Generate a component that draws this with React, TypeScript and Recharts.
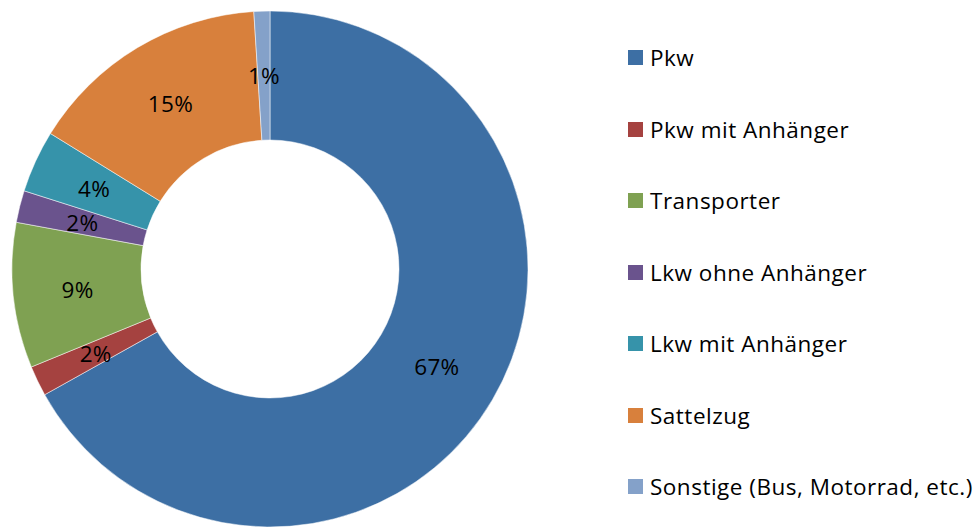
import { PieChart, Pie, Cell } from "recharts";

const categories = [
  "Pkw",
  "Pkw mit Anhänger",
  "Transporter",
  "Lkw ohne Anhänger",
  "Lkw mit Anhänger",
  "Sattelzug",
  "Sonstige (Bus, Motorrad, etc.)",
];
const shares = [66.9, 1.9, 9.1, 2.0, 3.9, 15.2, 1.0];
const colors = ["#3D6FA4", "#A54240", "#7FA152", "#6A538D", "#3693AA", "#D8803C", "#84A1C9"];

const data = categories.map((name, i) => ({ name, value: shares[i] }));

const FONT = "'Open Sans', sans-serif";
const RADIAN = Math.PI / 180;

function renderLabel(props: any) {
  const { cx, cy, midAngle, innerRadius, outerRadius, percent } = props;
  const r = (innerRadius + outerRadius) / 2;
  const x = cx + r * Math.cos(-midAngle * RADIAN);
  const y = cy + r * Math.sin(-midAngle * RADIAN);
  return (
    <text
      x={x}
      y={y}
      fill="#000"
      textAnchor="middle"
      dominantBaseline="central"
      fontSize={22.5}
      letterSpacing={0.3}
      fontFamily={FONT}
    >
      {`${Math.round(percent * 100)}%`}
    </text>
  );
}

export default function App() {
  return (
    <div style={{ position: "absolute", left: 0, top: 0, width: 978, height: 527, background: "#fff" }}>
      <PieChart width={978} height={527} margin={{ top: 0, right: 0, bottom: 0, left: 0 }}>
        <Pie
          data={data}
          dataKey="value"
          nameKey="name"
          cx={270}
          cy={269}
          outerRadius={258}
          innerRadius={129}
          startAngle={90}
          endAngle={-270}
          stroke="#fff"
          strokeWidth={0.5}
          label={renderLabel}
          labelLine={false}
          isAnimationActive={false}
        >
          {data.map((d, i) => (
            <Cell key={d.name} fill={colors[i]} />
          ))}
        </Pie>
      </PieChart>
      <div
        style={{
          position: "absolute",
          left: 628,
          top: 22,
          fontFamily: FONT,
          fontSize: 22.5,
          letterSpacing: 0.5,
          color: "#000",
        }}
      >
        {categories.map((name, i) => (
          <div
            key={name}
            style={{ height: 71.5, display: "flex", alignItems: "center", whiteSpace: "nowrap" }}
          >
            <span
              style={{
                display: "inline-block",
                width: 15,
                height: 15,
                background: colors[i],
                marginRight: 7,
              }}
            />
            {name}
          </div>
        ))}
      </div>
    </div>
  );
}
